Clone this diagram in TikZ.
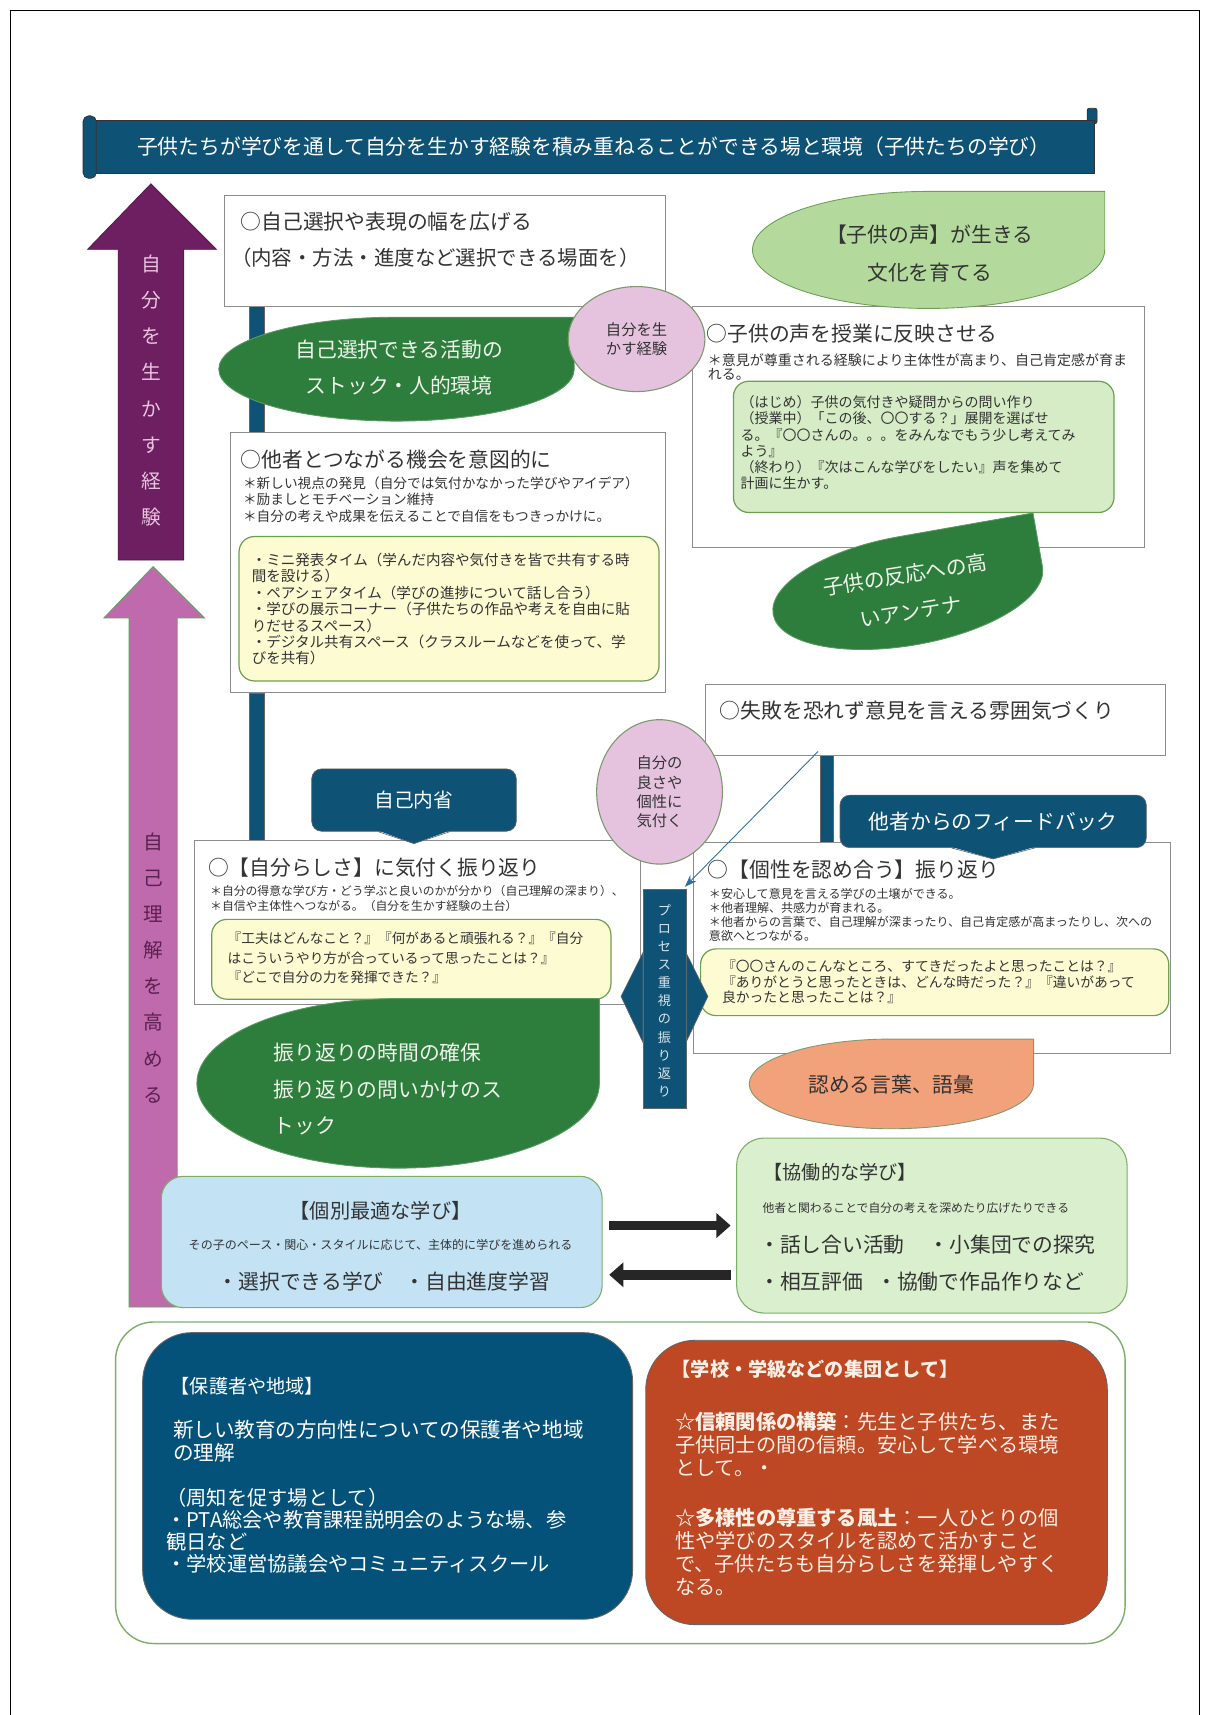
\documentclass[tikz,border=0pt]{standalone}
\usepackage{fontspec}
\setmainfont{Noto Sans CJK JP}
\usetikzlibrary{shapes.geometric,arrows.meta}
\definecolor{dblue}{HTML}{0E5276}
\definecolor{purp}{HTML}{6E1F62}
\definecolor{pinkarr}{HTML}{C06AAE}
\definecolor{dkgreen}{HTML}{2D7D3C}
\definecolor{dkgreenb}{HTML}{5A9A60}
\definecolor{ltgreen}{HTML}{B3DA9C}
\definecolor{ltgreenb}{HTML}{6C9E55}
\definecolor{pinkell}{HTML}{E5C3DF}
\definecolor{pinkellb}{HTML}{7E9870}
\definecolor{yel}{HTML}{FCFBD2}
\definecolor{innerb}{HTML}{6E9E52}
\definecolor{innergreen}{HTML}{D5ECC6}
\definecolor{salmon}{HTML}{F2A27A}
\definecolor{ltblue}{HTML}{C3E3F5}
\definecolor{coopg}{HTML}{DAEFCD}
\definecolor{coopb}{HTML}{7EAF6A}
\definecolor{bbblue}{HTML}{04527A}
\definecolor{orangered}{HTML}{BE4823}
\definecolor{tdark}{HTML}{333333}
\definecolor{bgray}{HTML}{8C8C8C}
\definecolor{thinblue}{HTML}{2E6E9E}
\definecolor{cream}{HTML}{FBEFE6}
\definecolor{purtext}{HTML}{E8C4DE}
\definecolor{pinktext}{HTML}{5A2050}
\definecolor{blobtext}{HTML}{EEF4EA}
\definecolor{pbtext}{HTML}{D8E6EE}
\newcommand\fsz[2]{\fontsize{#1pt}{#2pt}\selectfont}
\newcommand\tear[5]{\path[#5] (#3,-#2) -- ({(#1+#3)/2},-#2) arc[start angle=90,end angle=360,x radius={(#3-#1)/2},y radius={(#4-#2)/2}] -- cycle;}
\newcommand\tlines[7]{\foreach \t [count=\i] in {#7} {\node[#2,anchor=base west,inner sep=0pt,font=\fsz{#6}{#6}] (#1\i) at ({#3},{-(#4+(\i-1)*(#5)+0.37*(#6))}) {\t};}}
\newcommand\ctext[6]{\node[#2,anchor=base,inner sep=0pt,font=\fsz{#5}{#5}] (#1) at ({#3},{-(#4+0.37*(#5))}) {#6};}
\begin{document}
\begin{tikzpicture}[x=1pt,y=1pt,
  txt/.style={text=tdark},
  wtxt/.style={text=white},
  box/.style={draw=bgray,fill=white,line width=0.7pt,anchor=north west,inner sep=0pt},
  innerbox/.style={draw=innerb,line width=1.1pt,rounded corners=14pt,anchor=north west,inner sep=0pt},
  bar/.style={draw=black!60,fill=dblue,line width=0.5pt},
  callbox/.style={fill=dblue,draw=black!60,line width=0.6pt,rounded corners=9pt,text=white,inner sep=0pt},
  bigarr/.style={line width=9pt,draw=black!85,-{Triangle[length=13pt,width=22pt]}},
  thinarr/.style={draw=thinblue,line width=0.8pt,-{Stealth[length=11pt,width=8pt]}}]
\useasboundingbox (0,0) rectangle (1107,-1568);
\fill[white] (0,0) rectangle (1107,-1568);
\draw[black,line width=1pt] (10,-1568) -- (10,-10) -- (1097,-10) -- (1097,-1568);

% banner
\draw[fill=dblue,draw=black!80,line width=0.8pt,rounded corners=2pt] (994,-99) rectangle (1003,-113);
\node[fill=dblue,draw=black!80,line width=0.8pt,minimum width=915pt,minimum height=48pt,anchor=north west,inner sep=0pt,text=white,font=\fsz{19}{22}] (title) at (85,-110) {子供たちが学びを通して自分を生かす経験を積み重ねることができる場と環境（子供たちの学び）};
\draw[fill=dblue,draw=black!80,line width=0.8pt,rounded corners=5pt] (76,-106) rectangle (88,-163);

% big vertical arrows
\filldraw[fill=purp,draw=purp!70!black,line width=0.6pt] (108,-512) -- (108,-228) -- (80,-228) -- (138,-168) -- (198,-228) -- (168,-228) -- (168,-512) -- cycle;
\node[align=center,inner sep=0pt,text=purtext,font=\fsz{18}{33}] (purtxt) at (138,-357) {自\\分\\を\\生\\か\\す\\経\\験};
\filldraw[fill=pinkarr,draw=gray!70!green,line width=0.8pt] (118,-1195) -- (118,-565) -- (95,-565) -- (140,-518) -- (187,-565) -- (162,-565) -- (162,-1195) -- cycle;
\node[align=center,inner sep=0pt,text=pinktext,font=\fsz{18}{33}] (pinktxt) at (140,-885) {自\\己\\理\\解\\を\\高\\め\\る};

% boxes (named, drawn after bars)
\path (205,-178) node[anchor=north west,minimum width=403pt,minimum height=102pt,inner sep=0pt] (A) {};
\path (210,-395) node[anchor=north west,minimum width=398pt,minimum height=238pt,inner sep=0pt] (C) {};
\path (177,-768) node[anchor=north west,minimum width=408pt,minimum height=150pt,inner sep=0pt] (E) {};
\path (645,-625) node[anchor=north west,minimum width=420pt,minimum height=65pt,inner sep=0pt] (D) {};
\path (634,-770) node[anchor=north west,minimum width=436pt,minimum height=193pt,inner sep=0pt] (F) {};
\draw[bar] ([xshift=23pt]A.south west) rectangle ([xshift=37pt]A.south west |- C.north);
\draw[bar] ([xshift=18pt]C.south west) rectangle ([xshift=32pt]C.south west |- E.north);
\draw[bar] ([xshift=105pt]D.south west) rectangle ([xshift=117pt]D.south west |- F.north);

\node[box,minimum width=403pt,minimum height=102pt] (Ab) at (A.north west) {};
\node[box,minimum width=413pt,minimum height=220pt] (B) at (633,-280) {};
\node[box,minimum width=398pt,minimum height=238pt] (Cb) at (C.north west) {};
\node[box,minimum width=420pt,minimum height=65pt] (Db) at (D.north west) {};
\node[box,minimum width=408pt,minimum height=150pt] (Eb) at (E.north west) {};
\node[box,minimum width=436pt,minimum height=193pt] (Fb) at (F.north west) {};

% Box A
\tlines{a}{txt}{220}{203}{33}{19}{{○自己選択や表現の幅を広げる}}
\tlines{ab}{txt}{211}{236}{33}{18.7}{{（内容・方法・進度など選択できる場面を）}}
% Box B
\tlines{b}{txt}{646}{305}{33}{19}{{○子供の声を授業に反映させる}}
\tlines{bn}{txt}{647}{329}{13}{12.8}{{＊意見が尊重される経験により主体性が高まり、自己肯定感が育ま},{れる。}}
\node[innerbox,fill=innergreen,minimum width=348pt,minimum height=120pt] (Bi) at (670,-348) {};
\tlines{bi}{txt}{677}{368}{14.8}{12.8}{{（はじめ）子供の気付きや疑問からの問い作り},{（授業中）「この後、〇〇する？」展開を選ばせ},{る。『〇〇さんの。。。をみんなでもう少し考えてみ},{よう』},{（終わり）『次はこんな学びをしたい』声を集めて},{計画に生かす。}}
% Box C
\tlines{c}{txt}{220}{420}{33}{19}{{○他者とつながる機会を意図的に}}
\tlines{cn}{txt}{222}{442}{15}{12.5}{{＊新しい視点の発見（自分では気付かなかった学びやアイデア）},{＊励ましとモチベーション維持},{＊自分の考えや成果を伝えることで自信をもつきっかけに。}}
\node[innerbox,fill=yel,minimum width=384pt,minimum height=132pt] (Ci) at (218,-490) {};
\tlines{ci}{txt}{230}{512}{15}{13.3}{{・ミニ発表タイム（学んだ内容や気付きを皆で共有する時},{間を設ける）},{・ペアシェアタイム（学びの進捗について話し合う）},{・学びの展示コーナー（子供たちの作品や考えを自由に貼},{りだせるスペース）},{・デジタル共有スペース（クラスルームなどを使って、学},{びを共有）}}
% Box D
\tlines{d}{txt}{658}{650}{33}{19}{{○失敗を恐れず意見を言える雰囲気づくり}}
% Box E
\tlines{e}{txt}{190}{793}{33}{19}{{○【自分らしさ】に気付く振り返り}}
\tlines{en}{txt}{192}{815}{13}{10.8}{{＊自分の得意な学び方・どう学ぶと良いのかが分かり（自己理解の深まり）、},{＊自信や主体性へつながる。（自分を生かす経験の土台）}}
\node[innerbox,fill=yel,minimum width=365pt,minimum height=73pt] (Ei) at (193,-840) {};
\tlines{ei}{txt}{208}{858}{18}{12.5}{{『工夫はどんなこと？』『何があると頑張れる？』『自分},{はこういうやり方が合っているって思ったことは？』},{『どこで自分の力を発揮できた？』}}
% Box F
\tlines{f}{txt}{647}{795}{33}{19}{{○【個性を認め合う】振り返り}}
\tlines{fn}{txt}{648}{817}{13}{11}{{＊安心して意見を言える学びの土壌ができる。},{＊他者理解、共感力が育まれる。},{＊他者からの言葉で、自己理解が深まったり、自己肯定感が高まったりし、次への},{意欲へとつながる。}}
\node[innerbox,fill=yel,minimum width=428pt,minimum height=61pt] (Fi) at (640,-867) {};
\tlines{fi}{txt}{660}{884}{14}{12.6}{{『〇〇さんのこんなところ、すてきだったよと思ったことは？』},{『ありがとうと思ったときは、どんな時だった？』『違いがあって},{良かったと思ったことは？』}}

% blobs
\tear{200}{290}{525}{385}{fill=dkgreen,draw=dkgreenb,line width=0.8pt}
\ctext{g1a}{text=blobtext}{365}{320}{19}{自己選択できる活動の}
\ctext{g1b}{text=blobtext}{365}{353}{19}{ストック・人的環境}
\tear{688}{175}{1010}{282}{fill=ltgreen,draw=ltgreenb,line width=0.8pt}
\ctext{g2a}{text=tdark}{850}{215}{19}{【子供の声】が生きる}
\ctext{g2b}{text=tdark}{850}{249}{19}{文化を育てる}
\begin{scope}[rotate around={10:(830,-540)}]
\tear{705}{490}{955}{590}{fill=dkgreen,draw=dkgreenb,line width=0.8pt}
\end{scope}
\node[rotate=9,inner sep=0pt,align=center,text=blobtext,font=\fsz{19}{34}] (g3) at (830,-542) {子供の反応への高\\いアンテナ};
\tear{180}{913}{548}{1068}{fill=dkgreen,draw=dkgreenb,line width=0.8pt}
\tlines{g4}{text=blobtext}{250}{963}{33}{19}{{振り返りの時間の確保},{振り返りの問いかけのス},{トック}}
\tear{685}{950}{945}{1032}{fill=salmon,draw=pinkellb,line width=0.8pt}
\ctext{g5}{text=tdark}{815}{992}{19}{認める言葉、語彙}

% pink ellipses
\node[ellipse,fill=pinkell,draw=pinkellb,line width=1pt,minimum width=125pt,minimum height=96pt,inner sep=0pt,align=center,text=tdark,font=\fsz{14}{17}] (p1) at (582,-310) {自分を生\\かす経験};
\node[ellipse,fill=pinkell,draw=pinkellb,line width=1pt,minimum width=115pt,minimum height=132pt,inner sep=0pt,align=center,text=tdark,font=\fsz{14}{17.5}] (p2) at (603,-724) {自分の\\良さや\\個性に\\気付く};

% callouts
\node[callbox,minimum width=187pt,minimum height=57pt,font=\fsz{18}{20}] (k1) at (378.5,-731.5) {自己内省};
\fill[dblue] ([xshift=-33pt,yshift=1pt]k1.south) -- ([yshift=-11pt]k1.south) -- ([xshift=33pt,yshift=1pt]k1.south) -- cycle;
\draw[black!60,line width=0.6pt] ([xshift=-33pt]k1.south) -- ([yshift=-11pt]k1.south) -- ([xshift=33pt]k1.south);
\node[callbox,minimum width=280pt,minimum height=48pt,font=\fsz{19}{20}] (k2) at (908,-751) {他者からのフィードバック};
\fill[dblue] ([xshift=-38pt,yshift=1pt]k2.south) -- ([yshift=-10pt]k2.south) -- ([xshift=38pt,yshift=1pt]k2.south) -- cycle;
\draw[black!60,line width=0.6pt] ([xshift=-38pt]k2.south) -- ([yshift=-10pt]k2.south) -- ([xshift=38pt]k2.south);

% process bar
\path (607.5,-913) node[minimum width=39pt,minimum height=200pt,inner sep=0pt] (pb) {};
\filldraw[fill=dblue,draw=black!60,line width=0.6pt] ([yshift=42pt]pb.west) -- ([xshift=-20pt,yshift=2pt]pb.west) -- ([yshift=-40pt]pb.west) -- cycle;
\filldraw[fill=dblue,draw=black!60,line width=0.6pt] ([yshift=42pt]pb.east) -- ([xshift=20pt,yshift=2pt]pb.east) -- ([yshift=-40pt]pb.east) -- cycle;
\filldraw[fill=dblue,draw=black!60,line width=0.6pt] (pb.south west) rectangle (pb.north east);
\node[align=center,inner sep=0pt,text=pbtext,font=\fsz{12}{16.5}] (pbt) at (607.5,-915) {プ\\ロ\\セ\\ス\\重\\視\\の\\振\\り\\返\\り};
\coordinate (ds) at (748,-687);
\draw[thinarr] (ds) -- ([xshift=-1pt,yshift=2pt]pb.north east);

% learning boxes
\node[draw=coopb,fill=ltblue,line width=1pt,rounded corners=20pt,minimum width=403pt,minimum height=120pt,anchor=north west,inner sep=0pt] (ind) at (147,-1075) {};
\ctext{ind1}{text=tdark}{348}{1107}{18.5}{【個別最適な学び】}
\ctext{ind2}{text=tdark}{348}{1138}{11}{その子のペース・関心・スタイルに応じて、主体的に学びを進められる}
\ctext{ind3}{text=tdark}{351}{1172}{19}{・選択できる学び　・自由進度学習}
\node[draw=coopb,fill=coopg,line width=1pt,rounded corners=25pt,minimum width=357pt,minimum height=160pt,anchor=north west,inner sep=0pt] (coop) at (673,-1040) {};
\tlines{co}{txt}{698}{1072}{33}{17.5}{{【協働的な学び】}}
\tlines{cs}{txt}{697}{1105}{33}{10.8}{{他者と関わることで自分の考えを深めたり広げたりできる}}
\tlines{cia}{txt}{694}{1138}{34}{19}{{・話し合い活動},{・相互評価}}
\tlines{cib}{txt}{849}{1138}{34}{19}{{・小集団での探究}}
\tlines{cic}{txt}{801}{1172}{34}{19}{{・協働で作品作りなど}}
\draw[bigarr] ([xshift=6pt,yshift=15pt]ind.east) -- ([xshift=-5pt]coop.west);
\draw[bigarr] ([xshift=-5pt,yshift=-45pt]coop.west) -- ([xshift=6pt,yshift=-30pt]ind.east);

% bottom section
\node[draw=coopb,fill=white,line width=1.3pt,rounded corners=35pt,minimum width=923pt,minimum height=294pt,anchor=north west,inner sep=0pt] (outer) at (105,-1208) {};
\node[draw=black!60,fill=bbblue,line width=0.8pt,rounded corners=45pt,minimum width=448pt,minimum height=262pt,anchor=north west,inner sep=0pt] (par) at (130,-1218) {};
\node[draw=black!60,fill=orangered,line width=0.8pt,rounded corners=45pt,minimum width=422pt,minimum height=260pt,anchor=north west,inner sep=0pt] (sch) at (590,-1225) {};
\tlines{pa}{wtxt}{156}{1268}{21}{17.5}{{【保護者や地域】}}
\tlines{pb}{wtxt}{158}{1307}{21}{18.8}{{新しい教育の方向性についての保護者や地域},{の理解}}
\tlines{pc}{wtxt}{152}{1370}{20}{18.5}{{（周知を促す場として）},{・PTA総会や教育課程説明会のような場、参},{観日など},{・学校運営協議会やコミュニティスクール}}
\tlines{sa}{text=cream}{614}{1252}{21}{17.5}{{\bfseries 【学校・学級などの集団として】}}
\tlines{sb}{text=cream}{617}{1300}{21}{18.5}{{{\bfseries ☆信頼関係の構築}：先生と子供たち、また},{子供同士の間の信頼。安心して学べる環境},{として。・}}
\tlines{sc}{text=cream}{617}{1388}{21}{18.5}{{{\bfseries ☆多様性の尊重する風土}：一人ひとりの個},{性や学びのスタイルを認めて活かすこと},{で、子供たちも自分らしさを発揮しやすく},{なる。}}
\end{tikzpicture}
\end{document}
